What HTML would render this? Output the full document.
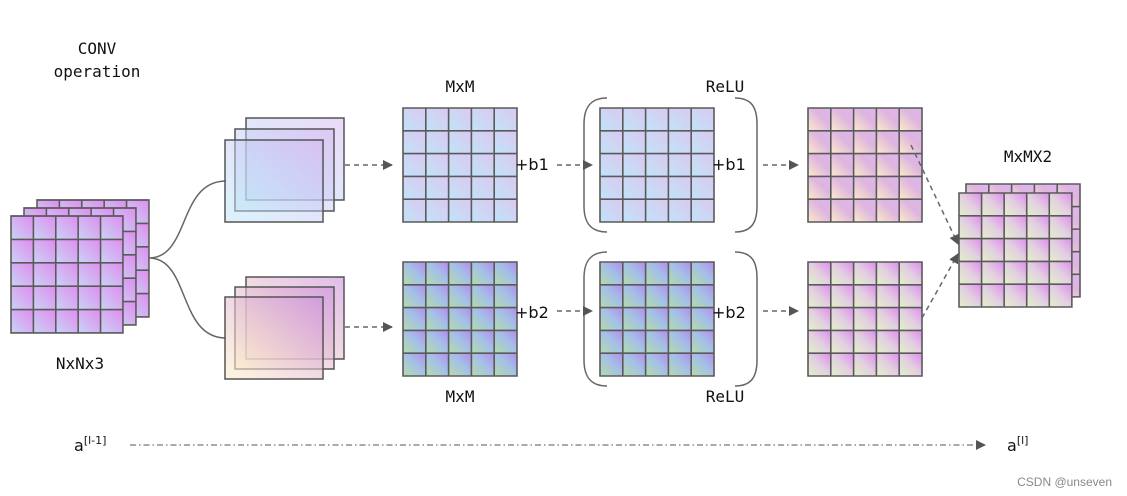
<!DOCTYPE html>
<html><head><meta charset="utf-8"><style>html,body{margin:0;padding:0;background:#fff}svg{display:block}</style></head><body>
<svg width="1127" height="496" viewBox="0 0 1127 496" xmlns="http://www.w3.org/2000/svg">
<defs>
<linearGradient id="gIn" x1="0" y1="1" x2="1" y2="0"><stop offset="0" stop-color="#c8d4f4"/><stop offset="1" stop-color="#e08cf0"/></linearGradient>
<linearGradient id="gTop" x1="0" y1="1" x2="1" y2="0"><stop offset="0" stop-color="#bfe4f8"/><stop offset="1" stop-color="#dcc8f0"/></linearGradient>
<linearGradient id="gBot" x1="0" y1="1" x2="1" y2="0"><stop offset="0" stop-color="#b4dca8"/><stop offset="0.55" stop-color="#a4c0e8"/><stop offset="1" stop-color="#b48cec"/></linearGradient>
<linearGradient id="gRT" x1="0" y1="1" x2="1" y2="0"><stop offset="0" stop-color="#fcecc8"/><stop offset="0.6" stop-color="#deb4e0"/><stop offset="1" stop-color="#dcb8ec"/></linearGradient>
<linearGradient id="gRB" x1="0" y1="1" x2="1" y2="0"><stop offset="0" stop-color="#e4f0c8"/><stop offset="0.5" stop-color="#e2d0e0"/><stop offset="1" stop-color="#e08cf0"/></linearGradient>
<linearGradient id="gFT" x1="0" y1="1" x2="1" y2="0"><stop offset="0" stop-color="#b8e6f8" stop-opacity="0.5"/><stop offset="1" stop-color="#d4b4f0" stop-opacity="0.5"/></linearGradient>
<linearGradient id="gFB" x1="0" y1="1" x2="1" y2="0"><stop offset="0" stop-color="#fff0c8" stop-opacity="0.6"/><stop offset="1" stop-color="#cc90dc" stop-opacity="0.6"/></linearGradient>
<pattern id="pIn" patternUnits="objectBoundingBox" patternContentUnits="objectBoundingBox" width="0.2" height="0.2"><rect width="0.2" height="0.2" fill="url(#gIn)"/></pattern>
<pattern id="pTop" patternUnits="objectBoundingBox" patternContentUnits="objectBoundingBox" width="0.2" height="0.2"><rect width="0.2" height="0.2" fill="url(#gTop)"/></pattern>
<pattern id="pBot" patternUnits="objectBoundingBox" patternContentUnits="objectBoundingBox" width="0.2" height="0.2"><rect width="0.2" height="0.2" fill="url(#gBot)"/></pattern>
<pattern id="pRT" patternUnits="objectBoundingBox" patternContentUnits="objectBoundingBox" width="0.2" height="0.2"><rect width="0.2" height="0.2" fill="url(#gRT)"/></pattern>
<pattern id="pRB" patternUnits="objectBoundingBox" patternContentUnits="objectBoundingBox" width="0.2" height="0.2"><rect width="0.2" height="0.2" fill="url(#gRB)"/></pattern>
<g id="gl"><path d="M0 0H114V114H0Z M22.8 0V114 M45.6 0V114 M68.4 0V114 M91.2 0V114 M0 22.8H114 M0 45.6H114 M0 68.4H114 M0 91.2H114" fill="none" stroke="#5a5a5a" stroke-width="1.6"/></g>
<marker id="ar" markerWidth="10" markerHeight="10" refX="9" refY="5" orient="auto" markerUnits="userSpaceOnUse"><path d="M0 0L10 5L0 10Z" fill="#555"/></marker>
</defs>

<g font-family="DejaVu Sans Mono, Liberation Mono, monospace" font-size="16" fill="#111" text-anchor="middle">
<text x="97" y="54">CONV</text><text x="97" y="77">operation</text>
<text x="80" y="369">NxNx3</text>
<text x="460" y="92">MxM</text><text x="460" y="402">MxM</text>
<text x="725" y="92">ReLU</text><text x="725" y="402">ReLU</text>
<text x="1028" y="162">MxMX2</text>
</g>

<!-- input stack -->
<rect x="37" y="200" width="112" height="117" fill="url(#pIn)"/><use href="#gl" transform="translate(37,200) scale(0.982,1.026)"/>
<rect x="24" y="208" width="112" height="117" fill="url(#pIn)"/><use href="#gl" transform="translate(24,208) scale(0.982,1.026)"/>
<rect x="11" y="216" width="112" height="117" fill="url(#pIn)"/><use href="#gl" transform="translate(11,216) scale(0.982,1.026)"/>

<path d="M149 258C190 258 178 181 226 181M149 258C190 258 178 338 226 338" fill="none" stroke="#666" stroke-width="1.5"/>

<!-- filters -->
<g stroke="#555" stroke-width="1.5">
<rect x="246" y="118" width="98" height="82" fill="url(#gFT)"/>
<rect x="235" y="129" width="99" height="82" fill="url(#gFT)"/>
<rect x="225" y="140" width="98" height="82" fill="url(#gFT)"/>
<rect x="246" y="277" width="98" height="82" fill="url(#gFB)"/>
<rect x="235" y="287" width="99" height="82" fill="url(#gFB)"/>
<rect x="225" y="297" width="98" height="82" fill="url(#gFB)"/>
</g>

<!-- grids -->
<rect x="403" y="108" width="114" height="114" fill="url(#pTop)"/><use href="#gl" x="403" y="108"/>
<rect x="403" y="262" width="114" height="114" fill="url(#pBot)"/><use href="#gl" x="403" y="262"/>
<rect x="600" y="108" width="114" height="114" fill="url(#pTop)"/><use href="#gl" x="600" y="108"/>
<rect x="600" y="262" width="114" height="114" fill="url(#pBot)"/><use href="#gl" x="600" y="262"/>
<rect x="808" y="108" width="114" height="114" fill="url(#pRT)"/><use href="#gl" x="808" y="108"/>
<rect x="808" y="262" width="114" height="114" fill="url(#pRB)"/><use href="#gl" x="808" y="262"/>
<rect x="966" y="184" width="114" height="113" fill="url(#pRT)"/><use href="#gl" transform="translate(966,184) scale(1,0.99)"/>
<rect x="959" y="193" width="113" height="114" fill="url(#pRB)"/><use href="#gl" transform="translate(959,193) scale(0.99,1)"/>

<!-- brackets -->
<g fill="none" stroke="#666" stroke-width="1.5">
<path d="M607 98C590 98 584 108 584 124V206C584 222 590 232 607 232"/>
<path d="M735 98C752 98 757 108 757 124V206C757 222 752 232 735 232"/>
<path d="M607 252C590 252 584 262 584 278V360C584 376 590 386 607 386"/>
<path d="M735 252C752 252 757 262 757 278V360C757 376 752 386 735 386"/>
</g>

<g font-family="DejaVu Sans, Liberation Sans, sans-serif" font-size="16" fill="#111">
<text x="515" y="170">+b1</text><text x="712" y="170">+b1</text>
<text x="515" y="318">+b2</text><text x="712" y="318">+b2</text>
</g>

<!-- arrows -->
<g stroke="#666" stroke-width="1.5" stroke-dasharray="5,4" fill="none" marker-end="url(#ar)">
<path d="M345 165H392"/><path d="M557 165H592"/><path d="M763 165H798"/>
<path d="M345 327H392"/><path d="M557 311H592"/><path d="M763 311H798"/>
<path d="M911 145L958 244"/><path d="M922 318L958 254"/>
</g>
<path d="M130 445H985" stroke="#777" stroke-width="1.3" stroke-dasharray="6,3,1.5,3" marker-end="url(#ar)"/>

<g font-family="DejaVu Sans, Liberation Sans, sans-serif" fill="#111">
<text x="74" y="451" font-size="16">a<tspan font-size="11" dy="-7">[l-1]</tspan></text>
<text x="1007" y="451" font-size="16">a<tspan font-size="11" dy="-7">[l]</tspan></text>
</g>
<text x="1112" y="486" font-family="Liberation Sans, sans-serif" font-size="12" fill="#888" text-anchor="end">CSDN @unseven</text>
</svg>
</body></html>
